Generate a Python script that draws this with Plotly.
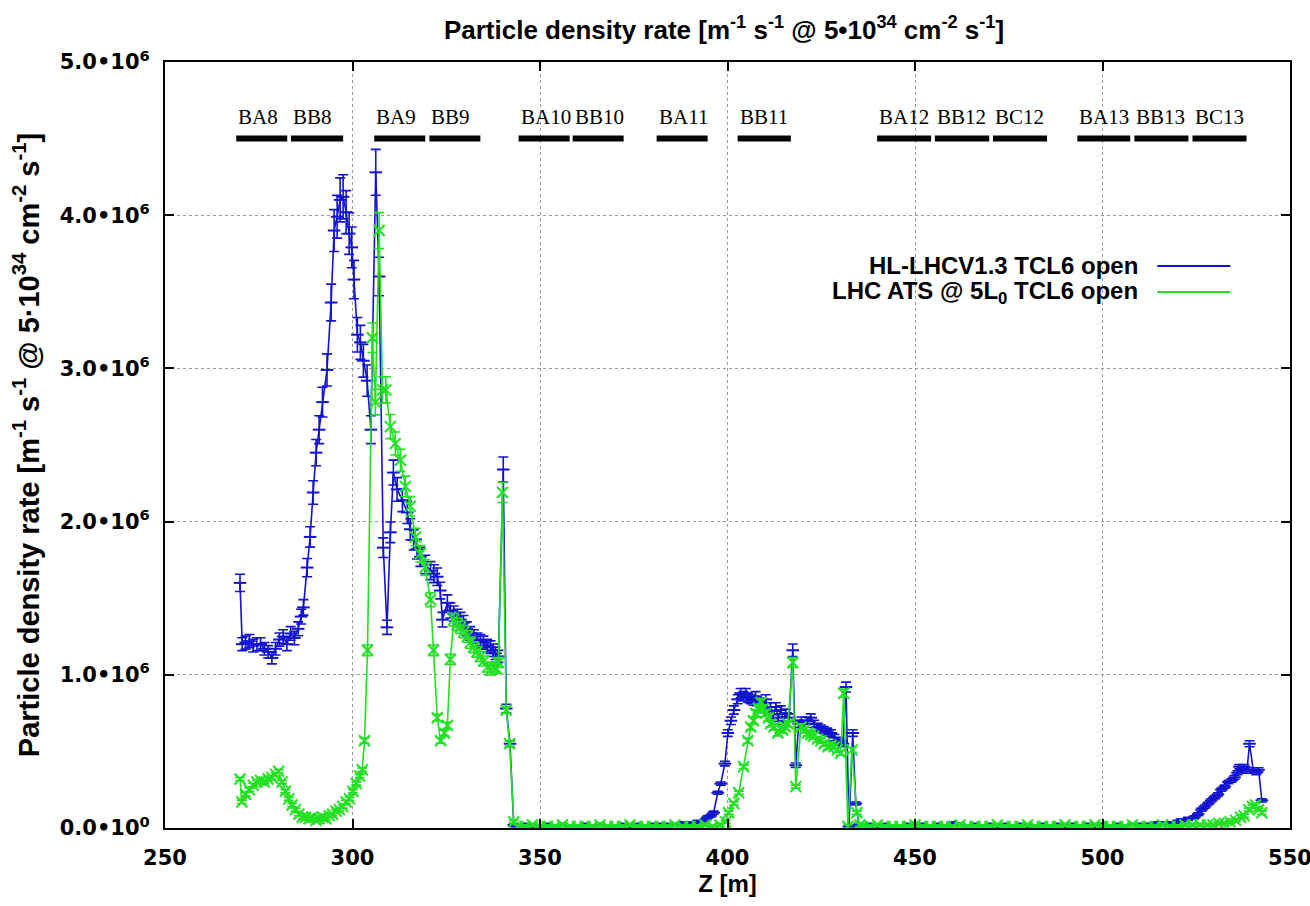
import plotly.graph_objects as go

# ---------------- data (rates in units of 1e6 m^-1 s^-1) ----------------
z_hl = [
    270.0, 270.6, 271.5, 272.5, 273.5, 274.5, 275.5, 276.5, 277.5, 278.5,
    279.5, 280.5, 281.5, 282.5, 283.5, 284.5, 285.5, 286.3, 286.9, 287.9,
    288.7, 289.5, 290.3, 291.1, 292.0, 293.2, 294.3, 295.1, 295.9, 296.7,
    297.5, 298.3, 299.1, 299.8, 300.4, 301.3, 302.1, 302.9, 303.9, 304.9,
    306.2, 307.1, 308.2, 309.2, 310.1, 310.9, 311.9, 313.3, 314.6, 315.4,
    316.3, 317.2, 318.1, 319.4, 320.8, 321.7, 322.6, 323.4, 324.0, 325.3,
    326.1, 327.0, 328.0, 328.8, 329.6, 330.5, 331.4, 332.4, 333.3, 334.1,
    334.9, 335.9, 336.8, 337.5, 338.1, 338.9, 340.2, 341.0, 342.0, 343.0,
    344, 346, 348, 350, 352, 354, 356, 358, 360, 362,
    364, 366, 368, 370, 372, 374, 376, 378, 380, 382,
    384, 386, 388, 390, 392,
    394.0, 394.7, 395.5, 396.3, 397.4, 398.2, 399.3, 400.1, 400.9, 401.7,
    402.7, 403.5, 404.2, 404.9, 405.5, 406.2, 406.9, 407.5, 408.2, 408.9,
    409.5, 410.2, 410.9, 411.5, 412.2, 412.9, 413.5, 414.2, 414.9, 415.5,
    416.4, 417.4, 418.2, 419.0, 419.7, 420.4, 421.3, 422.2, 423.1, 424.1,
    424.9, 425.7, 426.6, 427.6, 428.5, 429.4, 430.1, 430.8, 431.6, 432.4,
    433.4, 434.2, 435.0,
    436, 438, 440, 442, 444, 446, 448, 450, 452, 454,
    456, 458, 460, 462, 464, 466, 468, 470, 472, 474,
    476, 478, 480, 482, 484, 486, 488, 490, 492, 494,
    496, 498, 500, 502, 504, 506, 508, 510, 512, 514,
    516, 518,
    520.0, 521.0, 522.8, 524.5, 525.5, 526.4, 527.3, 528.2, 529.0, 529.9,
    530.8, 531.7, 532.6, 533.6, 534.4, 535.2, 536.0, 536.5, 537.2, 537.8,
    538.5, 539.2, 540.2, 541.0, 541.6, 542.5,
]
rate_hl = [
    1.60, 1.20, 1.21, 1.22, 1.19, 1.20, 1.20, 1.17, 1.15, 1.11,
    1.17, 1.23, 1.25, 1.20, 1.27, 1.24, 1.30, 1.38, 1.44, 1.70,
    1.90, 2.19, 2.45, 2.60, 2.78, 2.99, 3.43, 3.90, 3.99, 4.10,
    4.12, 4.02, 3.88, 3.79, 3.58, 3.22, 3.17, 3.05, 2.92, 2.60,
    4.28, 3.60, 1.83, 1.31, 1.93, 2.32, 2.21, 2.14, 2.06, 1.95,
    1.88, 1.82, 1.77, 1.72, 1.68, 1.66, 1.64, 1.55, 1.36, 1.47,
    1.42, 1.40, 1.38, 1.36, 1.34, 1.30, 1.27, 1.25, 1.23, 1.22,
    1.21, 1.19, 1.18, 1.16, 1.14, 1.12, 2.34, 0.78, 0.55, 0.02,
    0.01, 0.02, 0.01, 0.01, 0.02, 0.01, 0.02, 0.01, 0.01, 0.02,
    0.01, 0.02, 0.01, 0.01, 0.02, 0.01, 0.02, 0.01, 0.02, 0.02,
    0.02, 0.02, 0.03, 0.03, 0.04,
    0.05, 0.07, 0.08, 0.10, 0.23, 0.29, 0.42, 0.62, 0.70, 0.77,
    0.84, 0.88, 0.86, 0.88, 0.85, 0.84, 0.83, 0.86, 0.80, 0.82,
    0.78, 0.84, 0.76, 0.79, 0.74, 0.79, 0.72, 0.77, 0.70, 0.75,
    0.72, 1.16, 0.41, 0.68, 0.70, 0.68, 0.70, 0.72, 0.68, 0.66,
    0.65, 0.64, 0.63, 0.62, 0.59, 0.57, 0.56, 0.55, 0.92, 0.01,
    0.62, 0.16, 0.02,
    0.01, 0.02, 0.01, 0.02, 0.01, 0.01, 0.02, 0.01, 0.02, 0.01,
    0.02, 0.01, 0.03, 0.02, 0.01, 0.02, 0.01, 0.02, 0.01, 0.02,
    0.01, 0.02, 0.01, 0.01, 0.02, 0.01, 0.02, 0.01, 0.02, 0.01,
    0.02, 0.01, 0.02, 0.01, 0.02, 0.01, 0.02, 0.02, 0.02, 0.03,
    0.03, 0.03,
    0.04, 0.05, 0.06, 0.07, 0.09, 0.12, 0.14, 0.16, 0.18, 0.20,
    0.22, 0.25, 0.27, 0.30, 0.31, 0.33, 0.36, 0.40, 0.38, 0.40,
    0.37, 0.55, 0.38, 0.36, 0.38, 0.18,
]

z_ats = [
    270.0, 270.5, 271.5, 272.5, 273.5, 274.5, 275.5, 276.5, 277.5, 278.5,
    279.5, 280.3, 281.2, 282.1, 283.0, 283.9, 284.8, 285.7, 286.6, 287.5,
    288.4, 289.3, 290.2, 291.1, 292.0, 292.9, 293.8, 294.7, 295.6, 296.5,
    297.4, 298.3, 299.2, 300.1, 301.0, 301.9, 302.6, 303.2, 304.0, 305.3,
    306.1, 307.1, 308.0, 308.9, 310.1, 311.4, 312.8, 314.1, 315.4, 316.8,
    318.1, 319.4, 320.8, 321.6, 322.6, 323.5, 324.5, 325.3, 326.1, 327.0,
    327.9, 328.8, 329.7, 330.6, 331.4, 332.3, 333.2, 334.1, 335.0, 336.0,
    336.8, 337.6, 338.4, 338.9, 340.0, 341.0, 341.9, 343.0,
    344, 346, 348, 350, 352, 354, 356, 358, 360, 362,
    364, 366, 368, 370, 372, 374, 376, 378, 380, 382,
    384, 386, 388, 390, 392, 394, 396,
    398.0, 399.5, 400.3, 401.7, 403.0, 404.3, 405.4, 406.2, 406.9, 407.5,
    408.2, 408.9, 409.5, 410.2, 410.9, 411.5, 412.4, 413.4, 414.0, 414.7,
    415.4, 416.1, 417.4, 418.2, 419.6, 420.5, 421.4, 422.2, 423.0, 424.0,
    424.9, 425.8, 426.8, 427.6, 428.4, 429.3, 430.2, 431.0, 432.1, 433.2,
    434.5, 435.3,
    436, 438, 440, 442, 444, 446, 448, 450, 452, 454,
    456, 458, 460, 462, 464, 466, 468, 470, 472, 474,
    476, 478, 480, 482, 484, 486, 488, 490, 492, 494,
    496, 498, 500, 502, 504, 506, 508, 510, 512, 514,
    516, 518, 520, 522, 524, 526,
    528.0, 529.5, 531.0, 532.5, 534.0, 535.5, 536.8, 537.8, 539.0, 540.0,
    540.8, 541.6, 542.5,
]
rate_ats = [
    0.32, 0.17, 0.22, 0.25, 0.28, 0.30, 0.31, 0.30, 0.32, 0.33,
    0.35, 0.37, 0.30, 0.24, 0.19, 0.15, 0.12, 0.09, 0.07, 0.07,
    0.06, 0.07, 0.05, 0.06, 0.07, 0.06, 0.08, 0.09, 0.11, 0.12,
    0.14, 0.17, 0.19, 0.24, 0.29, 0.34, 0.38, 0.57, 1.16, 3.20,
    2.78, 3.90, 2.86, 2.86, 2.62, 2.51, 2.40, 2.23, 2.10, 1.90,
    1.79, 1.70, 1.49, 1.16, 0.72, 0.57, 0.62, 0.67, 1.10, 1.36,
    1.33, 1.31, 1.28, 1.25, 1.21, 1.18, 1.15, 1.12, 1.09, 1.05,
    1.03, 1.05, 1.04, 1.08, 2.19, 0.77, 0.55, 0.04,
    0.01, 0.01, 0.02, 0.01, 0.01, 0.01, 0.02, 0.01, 0.01, 0.01,
    0.01, 0.02, 0.01, 0.01, 0.01, 0.02, 0.01, 0.01, 0.01, 0.01,
    0.01, 0.02, 0.01, 0.01, 0.01, 0.02, 0.01,
    0.02, 0.04, 0.10, 0.16, 0.23, 0.40, 0.57, 0.66, 0.70, 0.75,
    0.78, 0.82, 0.78, 0.75, 0.72, 0.68, 0.66, 0.62, 0.65, 0.64,
    0.66, 0.68, 1.08, 0.27, 0.66, 0.64, 0.62, 0.61, 0.60, 0.58,
    0.57, 0.55, 0.53, 0.54, 0.53, 0.51, 0.49, 0.88, 0.01, 0.51,
    0.10, 0.02,
    0.01, 0.01, 0.02, 0.01, 0.01, 0.01, 0.01, 0.02, 0.01, 0.01,
    0.01, 0.01, 0.01, 0.02, 0.01, 0.01, 0.01, 0.01, 0.02, 0.01,
    0.01, 0.01, 0.02, 0.01, 0.01, 0.01, 0.01, 0.02, 0.01, 0.01,
    0.01, 0.02, 0.01, 0.01, 0.01, 0.01, 0.02, 0.01, 0.01, 0.01,
    0.02, 0.01, 0.01, 0.02, 0.02, 0.02,
    0.02, 0.02, 0.03, 0.03, 0.04, 0.05, 0.07, 0.08, 0.12, 0.14,
    0.15, 0.12, 0.10,
]

REL_ERR_HL = 0.035
REL_ERR_ATS = 0.03
UNIT = 1e6

magnet_names = ["BA8", "BB8", "BA9", "BB9", "BA10", "BB10", "BA11", "BB11",
                "BA12", "BB12", "BC12", "BA13", "BB13", "BC13"]
magnet_start = [269.0, 283.6, 305.8, 320.5, 344.3, 358.7, 381.1, 402.7,
                439.9, 455.3, 470.8, 493.3, 508.5, 524.0]
magnet_end = [282.6, 297.5, 319.4, 334.1, 357.9, 372.3, 394.7, 416.9,
              454.3, 469.8, 485.2, 507.4, 522.9, 538.4]
magnet_level = 4.5

series_names = ["HL-LHCV1.3 TCL6 open", "LHC ATS @ 5L<sub>0</sub> TCL6 open"]
x_ticks = [250, 300, 350, 400, 450, 500, 550]
y_ticks = [0, 1, 2, 3, 4, 5]
y_tick_text = ["0.0•10<sup>0</sup>", "1.0•10<sup>6</sup>", "2.0•10<sup>6</sup>",
               "3.0•10<sup>6</sup>", "4.0•10<sup>6</sup>", "5.0•10<sup>6</sup>"]

BLUE = "#1212d2"
GREEN = "#22e022"

# ---------------- figure ----------------
fig = go.Figure()

y_hl = [v * UNIT for v in rate_hl]
y_ats = [v * UNIT for v in rate_ats]

fig.add_trace(go.Scatter(
    x=z_hl, y=y_hl, mode="lines+markers", name=series_names[0], showlegend=False,
    line=dict(color=BLUE, width=1.6),
    marker=dict(symbol="line-ew-open", size=9, color=BLUE, line=dict(width=2, color=BLUE)),
    error_y=dict(type="data", array=[max(v * REL_ERR_HL, 0.01 * UNIT) for v in y_hl],
                 color=BLUE, thickness=1.6, width=5),
))
fig.add_trace(go.Scatter(
    x=z_ats, y=y_ats, mode="lines+markers", name=series_names[1], showlegend=False,
    line=dict(color=GREEN, width=1.6),
    marker=dict(symbol="x-thin-open", size=11, color=GREEN, line=dict(width=2, color=GREEN)),
    error_y=dict(type="data", array=[max(v * REL_ERR_ATS, 0.01 * UNIT) for v in y_ats],
                 color=GREEN, thickness=1.6, width=5),
))

shapes = []
annotations = []
for name, s, e in zip(magnet_names, magnet_start, magnet_end):
    shapes.append(dict(type="line", xref="x", yref="y", x0=s, x1=e,
                       y0=magnet_level * UNIT, y1=magnet_level * UNIT,
                       line=dict(color="black", width=6), layer="above"))
    annotations.append(dict(x=s, y=magnet_level * UNIT, xref="x", yref="y",
                            text=name, showarrow=False, xanchor="left", yanchor="bottom",
                            xshift=0, yshift=8,
                            font=dict(family="Liberation Serif", size=21, color="black")))

# manual legend (gnuplot style: text then line sample)
leg_y = [0.7337, 0.6997]
for nm, col, yy in zip(series_names, [BLUE, GREEN], leg_y):
    annotations.append(dict(x=0.8667, y=yy, xref="paper", yref="paper", text="<b>" + nm + "</b>",
                            showarrow=False, xanchor="right", yanchor="middle",
                            font=dict(family="Liberation Sans", size=24, color="black")))
    shapes.append(dict(type="line", xref="paper", yref="paper", x0=0.882, x1=0.947,
                       y0=yy, y1=yy, line=dict(color=col, width=2)))

tick_font = dict(family="DejaVu Sans", size=21, color="black", weight="bold")

fig.update_layout(
    width=1310, height=906,
    margin=dict(l=165, r=20, t=62, b=78, autoexpand=False),
    paper_bgcolor="white", plot_bgcolor="white",
    title=dict(text="<b>Particle density rate [m<sup>-1</sup> s<sup>-1</sup> @ 5•10<sup>34</sup> cm<sup>-2</sup> s<sup>-1</sup>]</b>",
               x=0.5527, xanchor="center", y=0.967, yanchor="middle",
               font=dict(family="Liberation Sans", size=26, color="black")),
    shapes=shapes, annotations=annotations,
    xaxis=dict(range=[250, 550], tickvals=x_ticks, ticktext=["<b>%d</b>" % t for t in x_ticks],
               tickfont=tick_font, ticks="inside", ticklen=9, tickwidth=2, tickcolor="black",
               ticklabelstandoff=10, ticklabeloverflow="allow",
               showline=True, linecolor="black", linewidth=2, mirror="ticks",
               showgrid=True, gridcolor="#999999", griddash="dot", gridwidth=1,
               zeroline=False, automargin=False,
               title=dict(text="<b>Z [m]</b>", standoff=6,
                          font=dict(family="Liberation Sans", size=24, color="black"))),
    yaxis=dict(range=[0, 5 * UNIT], tickvals=[t * UNIT for t in y_ticks],
               ticktext=["<b>" + t + "</b>" for t in y_tick_text],
               tickfont=tick_font, ticks="inside", ticklen=9, tickwidth=2, tickcolor="black",
               ticklabelstandoff=9, ticklabeloverflow="allow",
               showline=True, linecolor="black", linewidth=2, mirror="ticks",
               showgrid=True, gridcolor="#999999", griddash="dot", gridwidth=1,
               zeroline=False, automargin=False,
               title=dict(text="<b>Particle density rate [m<sup>-1</sup> s<sup>-1</sup> @ 5·10<sup>34</sup> cm<sup>-2</sup> s<sup>-1</sup>]</b>",
                          standoff=12,
                          font=dict(family="Liberation Sans Narrow, Liberation Sans", size=29, color="black"))),
)

fig.write_html("out.html", post_script="document.body.style.margin='0';",
               config={"displayModeBar": False})
